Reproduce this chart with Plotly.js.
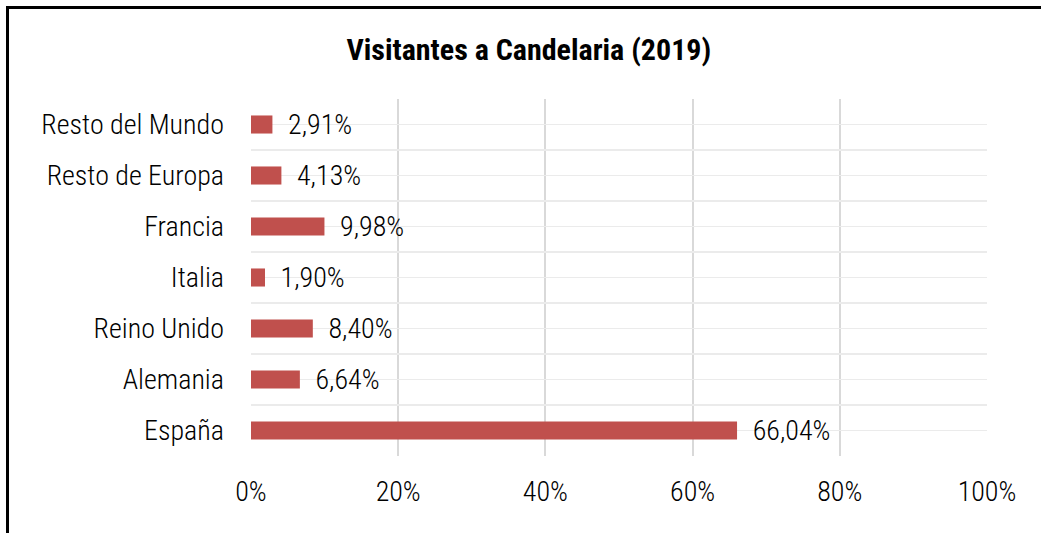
<!DOCTYPE html>
<html>
<head>
<meta charset="utf-8">
<script src="https://cdn.plot.ly/plotly-3.0.1.min.js"></script>
<style>
html, body { margin: 0; padding: 0; background: #fff; }
#wrap { position: relative; width: 1041px; height: 533px; overflow: hidden; }
#chart { position: absolute; left: 0; top: 0; width: 1041px; height: 533px; }
#frame { position: absolute; left: 6px; top: 6px; width: 1100px; height: 600px;
         border-left: 3px solid #000; border-top: 3px solid #000; pointer-events: none; }
</style>
</head>
<body>
<div id="wrap"><div id="chart"></div><div id="frame"></div></div>
<script>
// Data
const categories = ["España", "Alemania", "Reino Unido", "Italia", "Francia", "Resto de Europa", "Resto del Mundo"];
const shares = [66.04, 6.64, 8.40, 1.90, 9.98, 4.13, 2.91];
const xTickValues = [0, 20, 40, 60, 80, 100];
const xTickLabels = ["0%", "20%", "40%", "60%", "80%", "100%"];
const chartTitle = "Visitantes a Candelaria (2019)";

const FONT = "'Liberation Sans Narrow', 'Arial Narrow', 'Roboto Condensed', 'Liberation Sans', Arial, sans-serif";
const labels = shares.map(v => "\u00A0\u00A0" + v.toFixed(2).replace('.', ',') + "%");

const traces = [{
  type: 'bar',
  orientation: 'h',
  y: categories,
  x: shares,
  text: labels,
  textposition: 'outside',
  constraintext: 'none',
  cliponaxis: false,
  textfont: { family: FONT, size: 28, color: '#000', weight: 350 },
  marker: { color: '#C0504D' },
  hoverinfo: 'none'
}];

const layout = {
  width: 1041, height: 533,
  paper_bgcolor: '#fff', plot_bgcolor: '#fff',
  margin: { l: 251, r: 54, t: 99, b: 77 },
  showlegend: false,
  bargap: 0.646,
  font: { family: FONT, size: 28, color: '#000', weight: 350 },
  title: {
    text: "<b>" + chartTitle + "</b>",
    x: 0.508, xanchor: 'center', xref: 'container',
    y: 48, yref: 'container', yanchor: 'middle',
    font: { family: FONT, size: 30, color: '#000' }
  },
  xaxis: {
    range: [0, 100],
    tickvals: xTickValues, ticktext: xTickLabels,
    showgrid: true, gridcolor: '#d9d9d9', gridwidth: 2,
    zeroline: false, showline: false,
    ticks: '', ticklabelstandoff: 16,
    tickfont: { family: FONT, size: 28, color: '#000', weight: 350 },
    fixedrange: true
  },
  yaxis: {
    type: 'category',
    categoryorder: 'array', categoryarray: categories,
    range: [-0.5, categories.length - 0.5],
    showgrid: true, gridcolor: '#ebebeb', gridwidth: 1.5,
    tickson: 'boundaries',
    zeroline: false, showline: false,
    ticks: '', ticklabelstandoff: 26,
    tickfont: { family: FONT, size: 28, color: '#000', weight: 350 },
    fixedrange: true
  },
  yaxis2: {
    overlaying: 'y',
    range: [-0.5, categories.length - 0.5],
    tick0: 0, dtick: 1,
    showgrid: true, gridcolor: '#ebebeb', gridwidth: 1.5,
    showticklabels: false, zeroline: false, showline: false, ticks: '',
    fixedrange: true
  }
};

// invisible helper trace so the overlay axis (center gridlines) is drawn
traces.unshift({ type: 'scatter', mode: 'none', x: [0], y: [0], yaxis: 'y2', hoverinfo: 'none', showlegend: false });

Plotly.newPlot('chart', traces, layout, { displayModeBar: false, staticPlot: true });
</script>
</body>
</html>
